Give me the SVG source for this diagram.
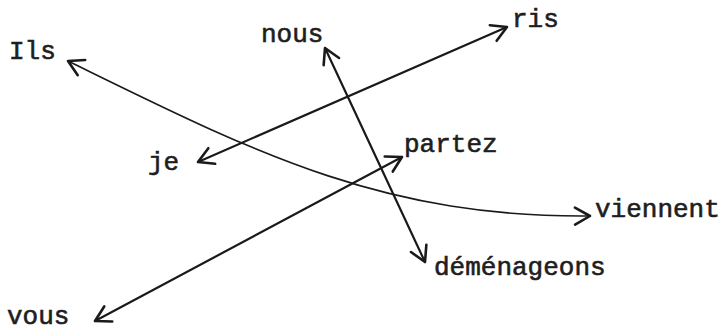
<svg xmlns="http://www.w3.org/2000/svg" width="723" height="332" viewBox="0 0 723 332">
  <style>
    .lbl { font-family: "Liberation Mono", "DejaVu Sans Mono", monospace; font-size: 26px; fill: #1e1e1e; stroke: #1e1e1e; stroke-width: 0.6px; }
    .edge { fill: none; stroke: #1a1a1a; stroke-width: 2.2px; stroke-linecap: round; }
    .thin { stroke-width: 1.6px; }
  </style>
  <defs>
    <marker id="v" markerUnits="userSpaceOnUse" markerWidth="40" markerHeight="40" refX="0" refY="0" viewBox="-20 -20 40 40" orient="auto-start-reverse" overflow="visible">
      <path d="M-15,-8.5 L0,0 L-15,8.5" fill="none" stroke="#1a1a1a" stroke-width="2.6" stroke-linecap="round" stroke-linejoin="round"/>
    </marker>
  </defs>
  <rect width="723" height="332" fill="#ffffff"/>
  <g id="connectors">
    <path class="edge thin" d="M68,61 C250,150 380,218 590,216" marker-start="url(#v)" marker-end="url(#v)"/>
    <line class="edge" x1="198" y1="162" x2="507" y2="27" marker-start="url(#v)" marker-end="url(#v)"/>
    <line class="edge" x1="325" y1="48" x2="425" y2="262" marker-start="url(#v)" marker-end="url(#v)"/>
    <line class="edge" x1="95" y1="321" x2="402" y2="157" marker-start="url(#v)" marker-end="url(#v)"/>
  </g>
  <g id="node-ils"><text class="lbl" x="9" y="59">Ils</text></g>
  <g id="node-nous"><text class="lbl" x="261" y="42">nous</text></g>
  <g id="node-ris"><text class="lbl" x="512" y="27">ris</text></g>
  <g id="node-je"><text class="lbl" x="148" y="170">je</text></g>
  <g id="node-partez"><text class="lbl" x="404" y="152">partez</text></g>
  <g id="node-viennent"><text class="lbl" x="595" y="217">viennent</text></g>
  <g id="node-demenageons"><text class="lbl" x="434" y="275">déménageons</text></g>
  <g id="node-vous"><text class="lbl" x="7" y="324">vous</text></g>
</svg>
